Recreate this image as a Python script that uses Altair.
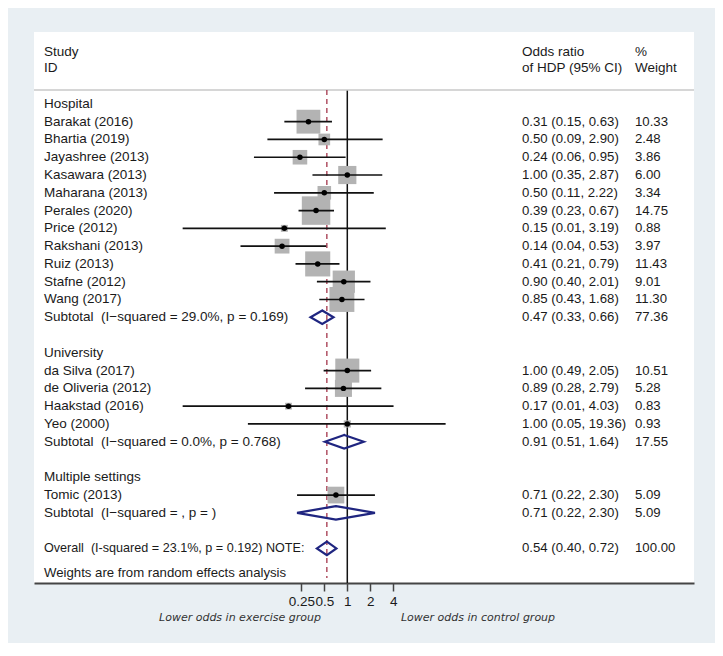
import altair as alt
import pandas as pd

# ---------------- data ----------------
groups = ["Hospital", "University", "Multiple settings"]
studies = ["Barakat (2016)", "Bhartia (2019)", "Jayashree (2013)", "Kasawara (2013)",
           "Maharana (2013)", "Perales (2020)", "Price (2012)", "Rakshani (2013)",
           "Ruiz (2013)", "Stafne (2012)", "Wang (2017)",
           "da Silva (2017)", "de Oliveria (2012)", "Haakstad (2016)", "Yeo (2000)",
           "Tomic (2013)"]
study_group = ["Hospital"] * 11 + ["University"] * 4 + ["Multiple settings"]
odds = [0.31, 0.50, 0.24, 1.00, 0.50, 0.39, 0.15, 0.14, 0.41, 0.90, 0.85,
        1.00, 0.89, 0.17, 1.00, 0.71]
ci_low = [0.15, 0.09, 0.06, 0.35, 0.11, 0.23, 0.007, 0.04, 0.21, 0.40, 0.43,
          0.49, 0.28, 0.007, 0.05, 0.22]
ci_high = [0.63, 2.90, 0.95, 2.87, 2.22, 0.67, 3.19, 0.53, 0.79, 2.01, 1.68,
           2.05, 2.79, 4.03, 19.36, 2.30]
weights = [10.33, 2.48, 3.86, 6.00, 3.34, 14.75, 0.88, 3.97, 11.43, 9.01, 11.30,
           10.51, 5.28, 0.83, 0.93, 5.09]

sub_labels = ["Subtotal \u00a0(I\u2212squared = 29.0%, p = 0.169)",
              "Subtotal \u00a0(I\u2212squared = 0.0%, p = 0.768)",
              "Subtotal \u00a0(I\u2212squared = , p = )"]
sub_or = [0.47, 0.91, 0.71]
sub_low = [0.33, 0.51, 0.22]
sub_high = [0.66, 1.64, 2.30]
sub_weight = [77.36, 17.55, 5.09]

overall_label = "Overall \u00a0(I-squared = 23.1%, p = 0.192) NOTE:"
overall_or, overall_low, overall_high, overall_weight = 0.54, 0.40, 0.72, 100.00
note_label = "Weights are from random effects analysis"
tick_values = [0.25, 0.5, 1, 2, 4]

# ---------------- layout ----------------
W, H = 660, 551
PX_PER_DOUBLING = 23.0
ONE_AT = 313.3
x_domain = [2 ** (-ONE_AT / PX_PER_DOUBLING), 2 ** ((W - ONE_AT) / PX_PER_DOUBLING)]
y_domain = [-4.044, 26.946]
xs = alt.Scale(type="log", base=2, domain=x_domain, nice=False)
ys = alt.Scale(domain=y_domain, reverse=True, nice=False, zero=False)

FONT = "Liberation Sans"
TXT = "#1a1a1a"
X_LABEL, X_EST, X_WT = 10, 488, 601

def fmt(o, l, h):
    return f"{o:.2f} ({l:.2f}, {h:.2f})"

# build rows
study_rows, text_rows, diamonds = [], [], []
r = 0
for gi, g in enumerate(groups):
    text_rows.append(dict(label=g, row=r, est="", wt=""))
    r += 1
    for i, s in enumerate(studies):
        if study_group[i] == g:
            study_rows.append(dict(row=r, orr=odds[i], lo=ci_low[i], hi=ci_high[i],
                                   size=55 * weights[i]))
            text_rows.append(dict(label=s, row=r, est=fmt(odds[i], ci_low[i], ci_high[i]),
                                  wt=f"{weights[i]:.2f}"))
            r += 1
    text_rows.append(dict(label=sub_labels[gi], row=r,
                          est=fmt(sub_or[gi], sub_low[gi], sub_high[gi]),
                          wt=f"{sub_weight[gi]:.2f}"))
    diamonds.append((g, r, sub_or[gi], sub_low[gi], sub_high[gi]))
    r += 2
overall_row = r
diamonds.append(("Overall", overall_row, overall_or, overall_low, overall_high))

study_df = pd.DataFrame(study_rows)
text_df = pd.DataFrame(text_rows)
overall_df = pd.DataFrame([dict(label=overall_label, row=overall_row,
                                est=fmt(overall_or, overall_low, overall_high),
                                wt=f"{overall_weight:.2f}")])
note_df = pd.DataFrame([dict(label=note_label, row=overall_row + 1.4)])

hh = 0.38
dia_rows = []
for name, row, o, l, h in diamonds:
    pts = [(o, row - hh), (h, row), (o, row + hh), (l, row), (o, row - hh)]
    for k, (px, py) in enumerate(pts):
        dia_rows.append(dict(d=name, k=k, x=px, y=py))
dia_df = pd.DataFrame(dia_rows)

# ---------------- layers ----------------
def fixed_text(t, x, y, **kw):
    return alt.Chart(pd.DataFrame({"t": [t]})).mark_text(
        align="left", baseline="middle", font=FONT, fontSize=13.5, color=TXT, **kw
    ).encode(text="t:N", x=alt.value(x), y=alt.value(y))

header_line = alt.Chart(pd.DataFrame({"a": [0]})).mark_rule(
    color="#c9c9c9", strokeWidth=1.5
).encode(x=alt.value(0), x2=alt.value(W), y=alt.value(58))

null_line = alt.Chart(pd.DataFrame({"v": [1.0]})).mark_rule(
    color="#111111", strokeWidth=1.5
).encode(x=alt.X("v:Q", scale=xs, axis=alt.Axis(
            values=tick_values, format="~g", title=None, grid=False,
            domainColor="#444444", domainWidth=2, tickColor="#444444",
            tickWidth=1.5, tickSize=8, labelFont=FONT, labelFontSize=13.5,
            labelColor=TXT, labelOverlap=False, labelPadding=3,
            labelFlush=False, labelBound=False)),
         y=alt.value(58), y2=alt.value(H))

overall_line = alt.Chart(pd.DataFrame({"v": [overall_or]})).mark_rule(
    color="#a3354a", strokeWidth=1.3, strokeDash=[5, 4]
).encode(x=alt.X("v:Q", scale=xs), y=alt.value(58), y2=alt.value(546))

squares = alt.Chart(study_df).mark_square(
    filled=True, color="#b3b3b3", opacity=1
).encode(x=alt.X("orr:Q", scale=xs), y=alt.Y("row:Q", scale=ys, axis=None),
         size=alt.Size("size:Q", scale=None, legend=None))

ci = alt.Chart(study_df).mark_rule(color="#111111", strokeWidth=1.7).encode(
    x=alt.X("lo:Q", scale=xs), x2="hi:Q", y=alt.Y("row:Q", scale=ys))

points = alt.Chart(study_df).mark_point(
    filled=True, shape="circle", color="#000000", size=30, opacity=1
).encode(x=alt.X("orr:Q", scale=xs), y=alt.Y("row:Q", scale=ys))

dia = alt.Chart(dia_df).mark_line(
    color="#1f2580", strokeWidth=2.2, strokeJoin="miter", strokeCap="round"
).encode(x=alt.X("x:Q", scale=xs), y=alt.Y("y:Q", scale=ys),
         detail="d:N", order="k:Q")

labels = alt.Chart(text_df).mark_text(
    align="left", baseline="middle", font=FONT, fontSize=13.5, color=TXT
).encode(text="label:N", x=alt.value(X_LABEL), y=alt.Y("row:Q", scale=ys))
est = alt.Chart(text_df).mark_text(
    align="left", baseline="middle", font=FONT, fontSize=13.2, color=TXT
).encode(text="est:N", x=alt.value(X_EST), y=alt.Y("row:Q", scale=ys))
wt = alt.Chart(text_df).mark_text(
    align="left", baseline="middle", font=FONT, fontSize=13.2, color=TXT
).encode(text="wt:N", x=alt.value(X_WT), y=alt.Y("row:Q", scale=ys))

ov_label = alt.Chart(overall_df).mark_text(
    align="left", baseline="middle", font=FONT, fontSize=12.6, color=TXT
).encode(text="label:N", x=alt.value(X_LABEL), y=alt.Y("row:Q", scale=ys))
ov_est = alt.Chart(overall_df).mark_text(
    align="left", baseline="middle", font=FONT, fontSize=13.2, color=TXT
).encode(text="est:N", x=alt.value(X_EST), y=alt.Y("row:Q", scale=ys))
ov_wt = alt.Chart(overall_df).mark_text(
    align="left", baseline="middle", font=FONT, fontSize=13.2, color=TXT
).encode(text="wt:N", x=alt.value(X_WT), y=alt.Y("row:Q", scale=ys))
note = alt.Chart(note_df).mark_text(
    align="left", baseline="middle", font=FONT, fontSize=13.2, color=TXT
).encode(text="label:N", x=alt.value(X_LABEL), y=alt.Y("row:Q", scale=ys))

headers = [
    fixed_text("Study", X_LABEL, 19.7), fixed_text("ID", X_LABEL, 36.3),
    fixed_text("Odds ratio", X_EST, 19.7), fixed_text("of HDP (95% CI)", X_EST, 36.3),
    fixed_text("%", X_WT, 19.7), fixed_text("Weight", X_WT, 36.3),
]

xtitle_l = alt.Chart(pd.DataFrame({"t": ["Lower odds in exercise group"]})).mark_text(
    align="center", baseline="middle", font="DejaVu Sans", fontSize=11,
    fontStyle="italic", color="#333333"
).encode(text="t:N", x=alt.value(206), y=alt.value(586))
xtitle_r = alt.Chart(pd.DataFrame({"t": ["Lower odds in control group"]})).mark_text(
    align="center", baseline="middle", font="DejaVu Sans", fontSize=11,
    fontStyle="italic", color="#333333"
).encode(text="t:N", x=alt.value(444), y=alt.value(586))

chart = alt.layer(
    null_line, header_line, overall_line, squares, ci, points, dia,
    labels, est, wt, ov_label, ov_est, ov_wt, note, *headers, xtitle_l, xtitle_r
).properties(
    width=W, height=H,
    autosize=alt.AutoSizeParams(type="none"),
    padding={"left": 26, "top": 24, "right": 21, "bottom": 60},
    background="#e9eff3",
).configure_view(fill="white", stroke=None)

chart.save("out.html", embed_options={"renderer": "svg", "actions": False})
